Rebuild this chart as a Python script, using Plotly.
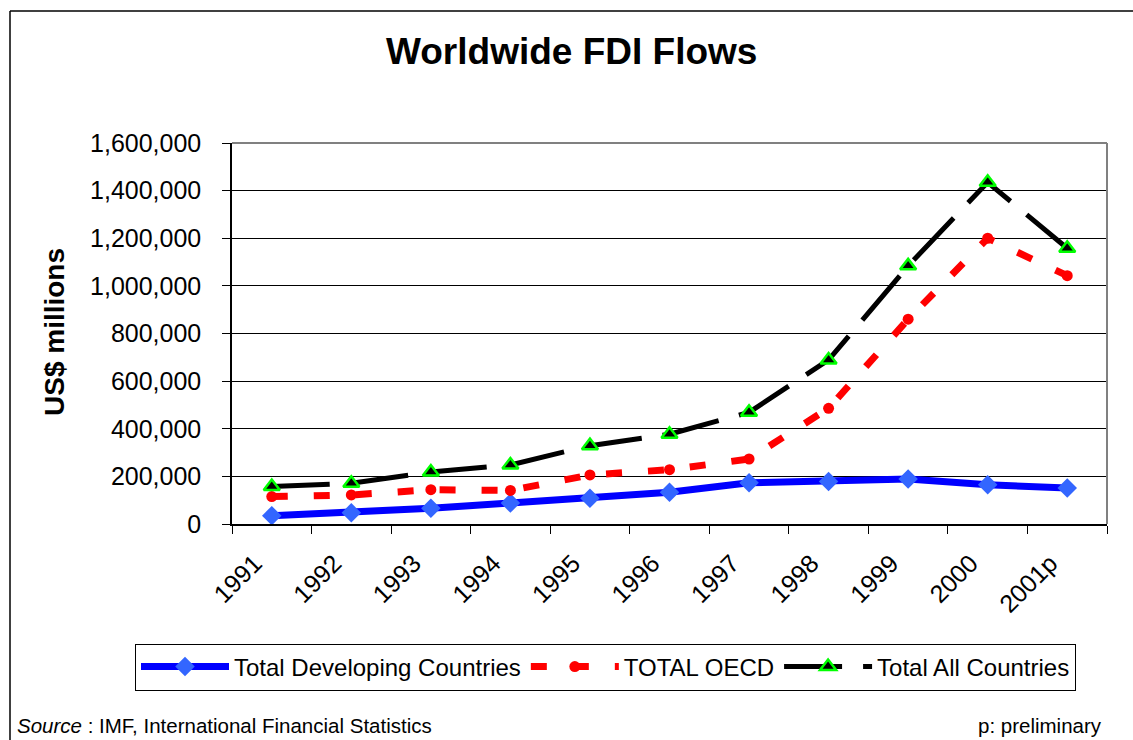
import plotly.graph_objects as go

years = ["1991", "1992", "1993", "1994", "1995", "1996", "1997", "1998", "1999", "2000", "2001p"]
developing = [35000, 47000, 66000, 88000, 108000, 133000, 173000, 178000, 189000, 165000, 151000]
oecd = [115000, 122000, 144000, 141000, 206000, 228000, 273000, 486000, 860000, 1200000, 1043000]
all_countries = [157000, 171000, 218000, 248000, 329000, 377000, 469000, 689000, 1084000, 1435000, 1158000]

FONT = "Arial, 'Liberation Sans', sans-serif"

# plot area geometry in pixels
W, H = 1133, 740
L, R, T, B = 232, 1107, 143, 524
def px(x):
    return (x - L) / (R - L)
def py(y):
    return (B - y) / (B - T)

fig = go.Figure()
fig.add_trace(go.Scatter(
    x=years, y=developing, name="Total Developing Countries", mode="lines+markers",
    line=dict(color="#0000FF", width=7),
    marker=dict(symbol="diamond", size=15, color="#3366FF", line=dict(width=0)),
))
fig.add_trace(go.Scatter(
    x=years, y=oecd, name="TOTAL OECD", mode="lines+markers",
    line=dict(color="#FF0000", width=7, dash="16px,26px"),
    marker=dict(symbol="circle", size=11, color="#FF0000", line=dict(width=0)),
))
fig.add_trace(go.Scatter(
    x=years, y=all_countries, name="Total All Countries", mode="lines+markers",
    line=dict(color="#000000", width=5, dash="58px,21px"),
    marker=dict(symbol="triangle-up", size=14, color="#000000", line=dict(width=2.5, color="#00FF00")),
))

shapes = [
    # plot area top and right border (grey)
    dict(type="line", xref="paper", yref="paper", x0=0, x1=1, y0=1, y1=1, line=dict(color="#808080", width=2)),
    dict(type="line", xref="paper", yref="paper", x0=1, x1=1, y0=0, y1=1, line=dict(color="#808080", width=2)),
    # outer chart border (left and top)
    dict(type="line", xref="paper", yref="paper", x0=px(10), x1=px(10), y0=py(11), y1=py(745),
         line=dict(color="#000000", width=1.5)),
    dict(type="line", xref="paper", yref="paper", x0=px(10), x1=px(1140), y0=py(11), y1=py(11),
         line=dict(color="#000000", width=1.5)),
]

annotations = [
    dict(text="<b>Worldwide FDI Flows</b>", xref="paper", yref="paper", x=px(571), y=py(52),
         xanchor="center", yanchor="middle", showarrow=False, font=dict(size=37, color="black", family=FONT)),
    dict(text="<b>US$ millions</b>", xref="paper", yref="paper", x=px(54), y=py(332),
         xanchor="center", yanchor="middle", textangle=-90, showarrow=False,
         font=dict(size=28, color="black", family=FONT)),
    dict(text="<i>Source</i> : IMF, International Financial Statistics", xref="paper", yref="paper",
         x=px(15), y=py(725), xanchor="left", yanchor="middle", showarrow=False,
         font=dict(size=20.5, color="black", family=FONT)),
    dict(text="p: preliminary", xref="paper", yref="paper", x=px(1104), y=py(725),
         xanchor="right", yanchor="middle", showarrow=False,
         font=dict(size=20.5, color="black", family=FONT)),
]

fig.update_layout(
    width=W, height=H,
    margin=dict(l=L, r=W - R, t=T, b=H - B, autoexpand=False),
    paper_bgcolor="white", plot_bgcolor="white",
    font=dict(family=FONT, color="black"),
    showlegend=True,
    legend=dict(orientation="h", xref="paper", yref="paper",
                x=px(135), y=py(667), xanchor="left", yanchor="middle",
                bordercolor="black", borderwidth=1, bgcolor="white",
                font=dict(size=24, family=FONT, color="black"),
                itemwidth=88, tracegroupgap=0, itemsizing="trace"),
    shapes=shapes,
    annotations=annotations,
)
fig.update_xaxes(
    type="category", showgrid=False, showline=True, linecolor="black", linewidth=1.5,
    ticks="outside", tickson="boundaries", ticklen=8, tickcolor="black", tickwidth=1,
    tickangle=-45, tickfont=dict(size=25, family=FONT, color="black"),
    ticklabelstandoff=13, ticklabelshift=-17,
    range=[-0.5, len(years) - 0.5], zeroline=False,
)
fig.update_yaxes(
    range=[0, 1600000], dtick=200000, tickformat=",d",
    showgrid=True, gridcolor="#000000", gridwidth=1,
    showline=True, linecolor="black", linewidth=1.5,
    ticks="outside", ticklen=8, tickcolor="black", tickwidth=1,
    tickfont=dict(size=25, family=FONT, color="black"),
    ticklabelstandoff=16, zeroline=False,
)

fig.write_html("out.html")
